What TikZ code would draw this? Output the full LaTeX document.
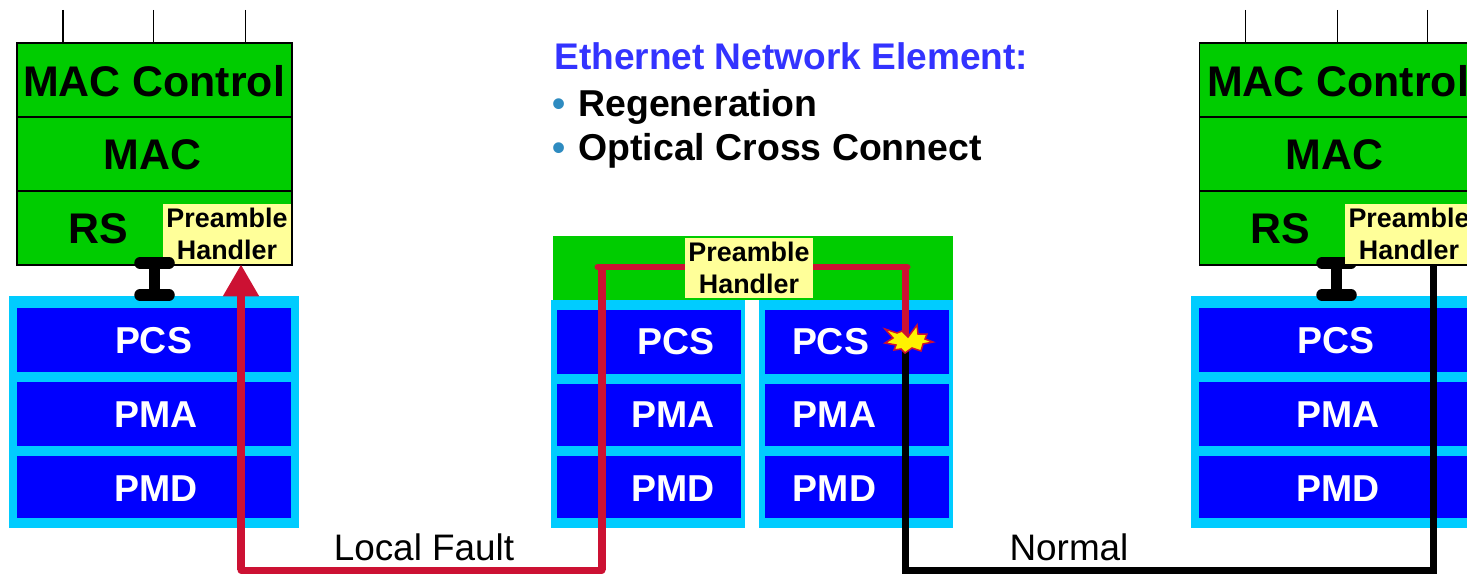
\documentclass[tikz,border=0pt]{standalone}
\usepackage{fontspec}
\setmainfont{Liberation Sans}
\usepackage{tikz}
\usetikzlibrary{arrows.meta}
\definecolor{macgreen}{HTML}{00CC00}
\definecolor{phycyan}{HTML}{00CCFF}
\definecolor{phyblue}{HTML}{0000FF}
\definecolor{handleryellow}{HTML}{FFFF99}
\definecolor{faultred}{HTML}{CC1133}
\definecolor{titleblue}{HTML}{3333FF}
\definecolor{dotblue}{HTML}{2E8BC0}

\begin{document}
\begin{tikzpicture}[x=0.02cm,y=-0.02cm,
	maclayer/.style={draw=black,line width=0.03cm,fill=macgreen,minimum width=5.5cm,minimum height=1.48cm,inner sep=0pt},
	macgroup/.style={fill=macgreen,minimum width=8cm,minimum height=1.28cm,inner sep=0pt},
	phyframe/.style={fill=phycyan,minimum height=4.64cm,inner sep=0pt},
	phylayer/.style={fill=phyblue,inner sep=0pt},
	handler/.style={fill=handleryellow,minimum width=2.56cm,minimum height=1.2cm,inner sep=0pt,align=center,font=\fontsize{15.3}{18.2}\selectfont\bfseries},
	macname/.style={inner sep=0pt,font=\fontsize{24.4}{28}\selectfont\bfseries},
	phyname/.style={inner sep=0pt,text=white,font=\fontsize{21.3}{25}\selectfont\bfseries},
	item/.style={anchor=base west,inner sep=0pt,font=\fontsize{21.3}{25}\selectfont\bfseries},
	linkname/.style={anchor=base,inner sep=0pt,font=\fontsize{21}{25}\selectfont},
	tick/.style={black,line width=0.027cm},
	bus/.style={black,line width=0.22cm},
	busbar/.style={black,line width=0.23cm,line cap=round},
	faultline/.style={faultred,line width=0.15cm},
	normalline/.style={black,line width=0.15cm}]

	\path[use as bounding box,clip] (0,0) rectangle (1467,574);

	% left station
	\node[phyframe,minimum width=5.8cm] (phyL) at (154,412) {};
	\node[phylayer,minimum width=5.48cm,minimum height=1.28cm] (pcsL) at (154,340) {};
	\node[phylayer,minimum width=5.48cm,minimum height=1.28cm] (pmaL) at (154,414) {};
	\node[phylayer,minimum width=5.48cm,minimum height=1.24cm] (pmdL) at (154,487) {};
	\node[phyname] (pcsnameL) at (153.5,341) {PCS};
	\node[phyname] (pmanameL) at (156,415) {PMA};
	\node[phyname] (pmdnameL) at (156,489) {PMD};

	\node[maclayer] (ctlL) at (154.5,80) {};
	\node[maclayer] (macL) at (154.5,154) {};
	\node[maclayer] (rsL) at (154.5,228) {};
	\node[macname] (ctlnameL) at (154,81) {MAC Control};
	\node[macname] (macnameL) at (152.5,155) {MAC};
	\node[macname] (rsnameL) at (98.5,229) {RS};
	\node[handler] (handlerL) at (227,234) {Preamble\\Handler};

	\coordinate (tickaL) at (63,10);
	\coordinate (tickbL) at (153.5,10);
	\coordinate (tickcL) at (245.5,10);
	\draw[tick] (tickaL) -- (tickaL |- ctlL.north);
	\draw[tick] (tickbL) -- (tickbL |- ctlL.north);
	\draw[tick] (tickcL) -- (tickcL |- ctlL.north);

	\coordinate (busaL) at (154.5,263);
	\coordinate (busbL) at (154.5,295);
	\draw[bus] (busaL) -- (busbL);
	\draw[busbar] (140,263) -- (169,263);
	\draw[busbar] (140,295) -- (169,295);

	% middle element
	\node[macgroup] (group) at (753,268) {};
	\node[phyframe,minimum width=3.88cm,minimum height=4.56cm] (phyA) at (648,414) {};
	\node[phyframe,minimum width=3.88cm,minimum height=4.56cm] (phyB) at (856,414) {};
	\node[phylayer,minimum width=3.68cm,minimum height=1.28cm] (pcsA) at (649,342) {};
	\node[phylayer,minimum width=3.68cm,minimum height=1.24cm] (pmaA) at (649,415) {};
	\node[phylayer,minimum width=3.68cm,minimum height=1.24cm] (pmdA) at (649,487) {};
	\node[phylayer,minimum width=3.68cm,minimum height=1.28cm] (pcsB) at (857,342) {};
	\node[phylayer,minimum width=3.68cm,minimum height=1.24cm] (pmaB) at (857,415) {};
	\node[phylayer,minimum width=3.68cm,minimum height=1.24cm] (pmdB) at (857,487) {};

	% right station
	\node[phyframe,minimum width=5.8cm] (phyR) at (1336,412) {};
	\node[phylayer,minimum width=5.48cm,minimum height=1.28cm] (pcsR) at (1336,340) {};
	\node[phylayer,minimum width=5.48cm,minimum height=1.28cm] (pmaR) at (1336,414) {};
	\node[phylayer,minimum width=5.48cm,minimum height=1.24cm] (pmdR) at (1336,487) {};
	\node[phyname] (pcsnameR) at (1336,341) {PCS};
	\node[phyname] (pmanameR) at (1338,415) {PMA};
	\node[phyname] (pmdnameR) at (1338,489) {PMD};

	\node[maclayer] (ctlR) at (1337,80) {};
	\node[maclayer] (macR) at (1337,154) {};
	\node[maclayer] (rsR) at (1337,228) {};
	\node[macname] (ctlnameR) at (1338,81) {MAC Control};
	\node[macname] (macnameR) at (1334.5,155) {MAC};
	\node[macname] (rsnameR) at (1280.5,229) {RS};

	\coordinate (tickaR) at (1245.5,10);
	\coordinate (tickbR) at (1337.5,10);
	\coordinate (tickcR) at (1427.5,10);
	\draw[tick] (tickaR) -- (tickaR |- ctlR.north);
	\draw[tick] (tickbR) -- (tickbR |- ctlR.north);
	\draw[tick] (tickcR) -- (tickcR |- ctlR.north);

	\coordinate (busaR) at (1336.5,263);
	\coordinate (busbR) at (1336.5,295);
	\draw[bus] (busaR) -- (busbR);
	\draw[busbar] (1322,263) -- (1351,263);
	\draw[busbar] (1322,295) -- (1351,295);
	\node[handler] (handlerR) at (1409,234) {Preamble\\Handler};

	% fault path
	\coordinate (arrowfoot) at (241,570);
	\coordinate (looptopA) at (602,267);
	\coordinate (loopbotA) at (602,570);
	\coordinate (looptopB) at (905.5,267);
	\coordinate (spark) at (905.5,340);
	\coordinate (normalbot) at (905.5,570.5);
	\coordinate (normalend) at (1433.5,570.5);

	\draw[normalline] (spark) -- (normalbot) -- (normalend) -- (normalend |- handlerR.south);
	\draw[faultline] (looptopA) -- (loopbotA);
	\draw[faultline] (looptopB) -- (spark);
	\draw[faultline,line width=0.14cm,line cap=round] (arrowfoot) -- (loopbotA);
	\draw[faultline,line width=0.14cm,line cap=round] (looptopA) ++(-4,0) -- (907,267);
	\draw[faultline,line width=0.16cm,-{Triangle[length=0.64cm,width=0.68cm]}] (arrowfoot) -- (arrowfoot |- handlerL.south);

	\node[handler] (handlerM) at (749,268) {Preamble\\Handler};

	\node[phyname] (pcsnameA) at (676,342) {PCS};
	\node[phyname] (pmanameA) at (673,415) {PMA};
	\node[phyname] (pmdnameA) at (673,489) {PMD};
	\node[phyname] (pcsnameB) at (830.5,342) {PCS};
	\node[phyname] (pmanameB) at (834.5,415) {PMA};
	\node[phyname] (pmdnameB) at (834.5,489) {PMD};

	% spark on the PCS
	\draw[faultred,line width=0.03cm,fill=yellow,line join=miter] (885,329) -- (897,333) -- (902,331) -- (908,337) -- (917,325) -- (918,334) -- (927,334) -- (925,339) -- (933,342) -- (923,344) -- (921,351) -- (912,348) -- (905,353) -- (901,349) -- (894,350) -- (896,345) -- (885,343) -- (893,338) -- cycle;

	% labels
	\node[linkname] (fault) at (424,560) {Local Fault};
	\node[linkname] (normal) at (1069,560) {Normal};

	\node[anchor=base west,inner sep=0pt,text=titleblue,font=\fontsize{21.1}{25}\selectfont\bfseries] (title) at (554,70) {Ethernet Network Element:};
	\node[anchor=base west,inner sep=0pt,text=dotblue,font=\fontsize{21.3}{25}\selectfont\bfseries] (dota) at (552,117) {•};
	\node[item] (itema) at (578,117) {Regeneration};
	\node[anchor=base west,inner sep=0pt,text=dotblue,font=\fontsize{21.3}{25}\selectfont\bfseries] (dotb) at (552,161) {•};
	\node[item] (itemb) at (578,161) {Optical Cross Connect};

\end{tikzpicture}
\end{document}
